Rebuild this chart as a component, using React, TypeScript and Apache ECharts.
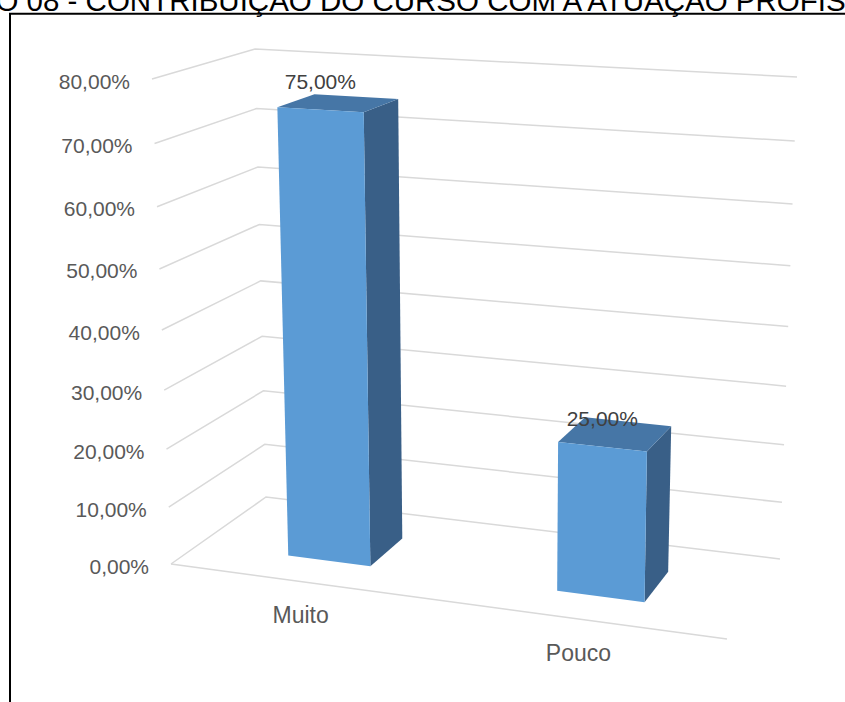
import React, { useEffect, useRef } from 'react';
import * as echarts from 'echarts';

const titleText = 'GRÁFICO 08 - CONTRIBUIÇÃO DO CURSO COM A ATUAÇÃO PROFISSIONAL';
const categories = ['Muito', 'Pouco'];
const values = [0.75, 0.25];
const yTicks = [0, 0.1, 0.2, 0.3, 0.4, 0.5, 0.6, 0.7, 0.8];

const fmt = (v: number) => (v * 100).toFixed(2).replace('.', ',') + '%';

// Perspective box (screen corners of the 3D plot area)
const FL = [171, 564], FR = [727, 639], BL = [266, 497], BR = [780, 559];
const HFL = [-19, -485], HFR = [12, -527], HBL = [-11, -448], HBR = [17, -482];
const KU = 0.064, KV = 0.073;

function bil(a: number[], b: number[], c: number[], d: number[], s: number, w: number) {
  const f = (i: number) =>
    (1 - s) * (1 - w) * a[i] + s * (1 - w) * b[i] + (1 - s) * w * c[i] + s * w * d[i];
  return [f(0), f(1)];
}
function proj(u: number, t: number, w: number) {
  const s = u / (1 + KU * (1 - u));
  const g = t / (1 + KV * (1 - t));
  const b = bil(FL, FR, BL, BR, s, w);
  const h = bil(HFL, HFR, HBL, HBR, s, w);
  return [b[0] + g * h[0], b[1] + g * h[1]];
}

const FONT = '"Liberation Sans", Arial, sans-serif';
const GRID_COLOR = '#d9d9d9';
const LABEL_COLOR = '#595959';

export default function App() {
  const ref = useRef<HTMLDivElement>(null);
  useEffect(() => {
    if (!ref.current) return;
    const chart = echarts.init(ref.current, null, { renderer: 'svg' });
    const W0 = 0.3, W1 = 0.69, BAR_FRAC = 0.312;

    const norm = (cs: any, p: number[]) => [
      (p[0] - cs.x) / cs.width,
      (cs.y + cs.height - p[1]) / cs.height,
    ];

    chart.setOption({
      animation: false,
      grid: { left: 0, right: 0, top: 0, bottom: 0 },
      xAxis: { type: 'category', data: categories, show: false },
      yAxis: { type: 'value', min: 0, max: 0.8, interval: 0.1, show: false },
      graphic: [
        {
          type: 'rect',
          shape: { x: 10, y: 13.7, width: 900, height: 800 },
          style: { fill: 'none', stroke: '#000', lineWidth: 2 },
          z: 10,
        },
        {
          type: 'text',
          x: -116,
          y: 0,
          style: {
            text: titleText,
            fill: '#000',
            fontSize: 29.5,
            fontFamily: FONT,
            align: 'left',
            verticalAlign: 'middle',
          },
          z: 11,
        },
      ],
      series: [
        {
          type: 'custom',
          z: 1,
          clip: false,
          data: yTicks.map((t) => [0, t]),
          renderItem: (params: any, api: any) => {
            const cs = params.coordSys;
            const [, t] = norm(cs, api.coord([0, api.value(1)]));
            const p0 = proj(0, t, 0), p1 = proj(0, t, 1), p2 = proj(1, t, 1);
            const children: any[] = [
              {
                type: 'polyline',
                shape: { points: [p0, p1, p2] },
                style: { stroke: GRID_COLOR, lineWidth: 1.5, fill: null },
              },
              {
                type: 'text',
                x: p0[0] - 22,
                y: p0[1] + 2,
                style: {
                  text: fmt(api.value(1)),
                  fill: LABEL_COLOR,
                  fontSize: 21,
                  fontFamily: FONT,
                  align: 'right',
                  verticalAlign: 'middle',
                },
              },
            ];
            if (api.value(1) === 0) {
              children.push({
                type: 'line',
                shape: { x1: p0[0], y1: p0[1], x2: proj(1, 0, 0)[0], y2: proj(1, 0, 0)[1] },
                style: { stroke: GRID_COLOR, lineWidth: 1.5 },
              });
            }
            return { type: 'group', children };
          },
        },
        {
          type: 'custom',
          z: 2,
          clip: false,
          data: categories.map((c, i) => [i, values[i]]),
          renderItem: (params: any, api: any) => {
            const cs = params.coordSys;
            const [uc, t] = norm(cs, api.coord([api.value(0), api.value(1)]));
            const [, t0] = norm(cs, api.coord([api.value(0), 0]));
            const hw = (api.size([1, 0])[0] * BAR_FRAC) / 2 / cs.width;
            const u0 = uc - hw, u1 = uc + hw;
            const front = [proj(u0, t0, W0), proj(u1, t0, W0), proj(u1, t, W0), proj(u0, t, W0)];
            const side = [proj(u1, t0, W0), proj(u1, t0, W1), proj(u1, t, W1), proj(u1, t, W0)];
            const top = [proj(u0, t, W0), proj(u1, t, W0), proj(u1, t, W1), proj(u0, t, W1)];
            const lp = proj(uc, t, W0);
            const base = proj(uc, 0, 0);
            return {
              type: 'group',
              children: [
                { type: 'polygon', shape: { points: side }, style: { fill: '#395f87' } },
                { type: 'polygon', shape: { points: top }, style: { fill: '#4676a6' } },
                { type: 'polygon', shape: { points: front }, style: { fill: '#5b9bd5' } },
                {
                  type: 'text',
                  x: lp[0],
                  y: lp[1] - 28,
                  style: {
                    text: fmt(api.value(1)),
                    fill: '#404040',
                    fontSize: 21,
                    fontFamily: FONT,
                    align: 'center',
                    verticalAlign: 'middle',
                  },
                },
                {
                  type: 'text',
                  x: base[0] - 3,
                  y: base[1] + 33.5,
                  style: {
                    text: categories[api.value(0)],
                    fill: LABEL_COLOR,
                    fontSize: 23,
                    fontFamily: FONT,
                    align: 'center',
                    verticalAlign: 'middle',
                  },
                },
              ],
            };
          },
        },
      ],
    });
    return () => chart.dispose();
  }, []);
  return (
    <div
      ref={ref}
      style={{ position: 'fixed', left: 0, top: 0, width: 845, height: 702, background: '#fff' }}
    />
  );
}
